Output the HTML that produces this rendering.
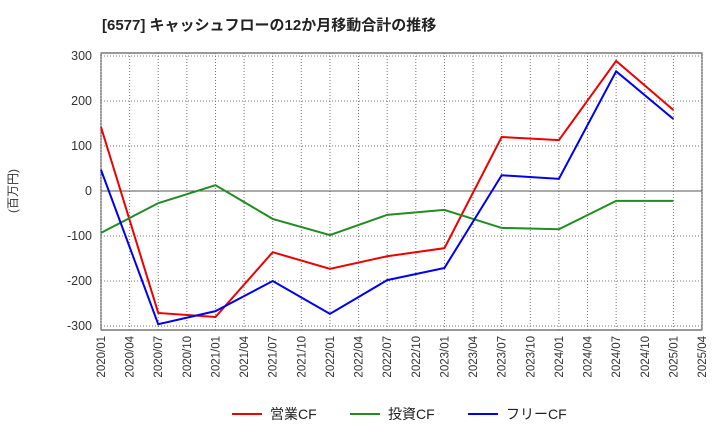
<!DOCTYPE html>
<html><head><meta charset="utf-8"><style>
body{margin:0;background:#fff;font-family:"Liberation Sans","Noto Sans CJK JP",sans-serif;}
</style></head><body>
<svg id="c" width="720" height="440" xmlns="http://www.w3.org/2000/svg" font-family="Liberation Sans, Noto Sans CJK JP, sans-serif">
<text x="102" y="30" font-size="15" font-weight="bold" fill="#222">[6577]  キャッシュフローの12か月移動合計の推移</text>
<text x="17" y="191" font-size="12" fill="#333" transform="rotate(-90 17 191)" text-anchor="middle">(百万円)</text>
<rect x="101" y="53" width="601" height="277" fill="none" stroke="#333"/>
<g id="grid"></g><g id="axes"></g><g id="series"></g>
<g font-size="14" fill="#222">
<line x1="232" y1="414" x2="262" y2="414" stroke="#e00" stroke-width="2"/><text x="270" y="419">営業CF</text>
<line x1="350" y1="414" x2="380" y2="414" stroke="#228b22" stroke-width="2"/><text x="388" y="419">投資CF</text>
<line x1="468" y1="414" x2="498" y2="414" stroke="#00e" stroke-width="2"/><text x="506" y="419">フリーCF</text>
</g>
</svg>
<script>
const xLabels=["2020/01","2020/04","2020/07","2020/10","2021/01","2021/04","2021/07","2021/10","2022/01","2022/04","2022/07","2022/10","2023/01","2023/04","2023/07","2023/10","2024/01","2024/04","2024/07","2024/10","2025/01","2025/04"];
const yTicks=[300,200,100,0,-100,-200,-300];
const pointIdx=[0,2,4,6,8,10,12,14,16,18,20];
const operatingCF=[142,-271,-280,-136,-173,-145,-127,120,113,289,180];
const investingCF=[-93,-27,13,-62,-98,-53,-42,-82,-85,-22,-22];
const freeCF=[47,-296,-267,-200,-273,-198,-171,35,27,266,160];
const NS="http://www.w3.org/2000/svg";
const X=i=>101+i*(601/21);
const Y=v=>191-v*0.45;
function mk(t,a,p){const e=document.createElementNS(NS,t);for(const k in a)e.setAttribute(k,a[k]);p.appendChild(e);return e;}
const g=document.getElementById('grid'),ax=document.getElementById('axes'),s=document.getElementById('series');
xLabels.forEach((l,i)=>{
 const ln=mk('line',{x1:X(i),x2:X(i),y1:53,y2:330,stroke:'#777','stroke-dasharray':'1,2'},g);
 
 
 const t=mk('text',{x:0,y:0,'font-size':11.5,fill:'#333','text-anchor':'end',transform:`translate(${X(i)+4},336) rotate(-90)`},ax);
 t.textContent=l;
 
 
});
yTicks.forEach(v=>{
 const ln=mk('line',{x1:101,x2:702,y1:Y(v),y2:Y(v),stroke:v===0?'#555':'#777','stroke-dasharray':v===0?'':'1,2'},g);
 
 
 const t=mk('text',{x:92,y:Y(v)+4,'font-size':12.5,fill:'#333','text-anchor':'end'},ax);
 t.textContent=String(v);
 
 
});
[[operatingCF,'#e00','operating-cf-line'],[investingCF,'#228b22','investing-cf-line'],[freeCF,'#00e','free-cf-line']].forEach(([d,c,n])=>{
 const p=mk('polyline',{points:d.map((v,i)=>X(pointIdx[i])+','+Y(v)).join(' '),fill:'none',stroke:c,'stroke-width':2},s);
 
 
});
</script>
</body></html>
